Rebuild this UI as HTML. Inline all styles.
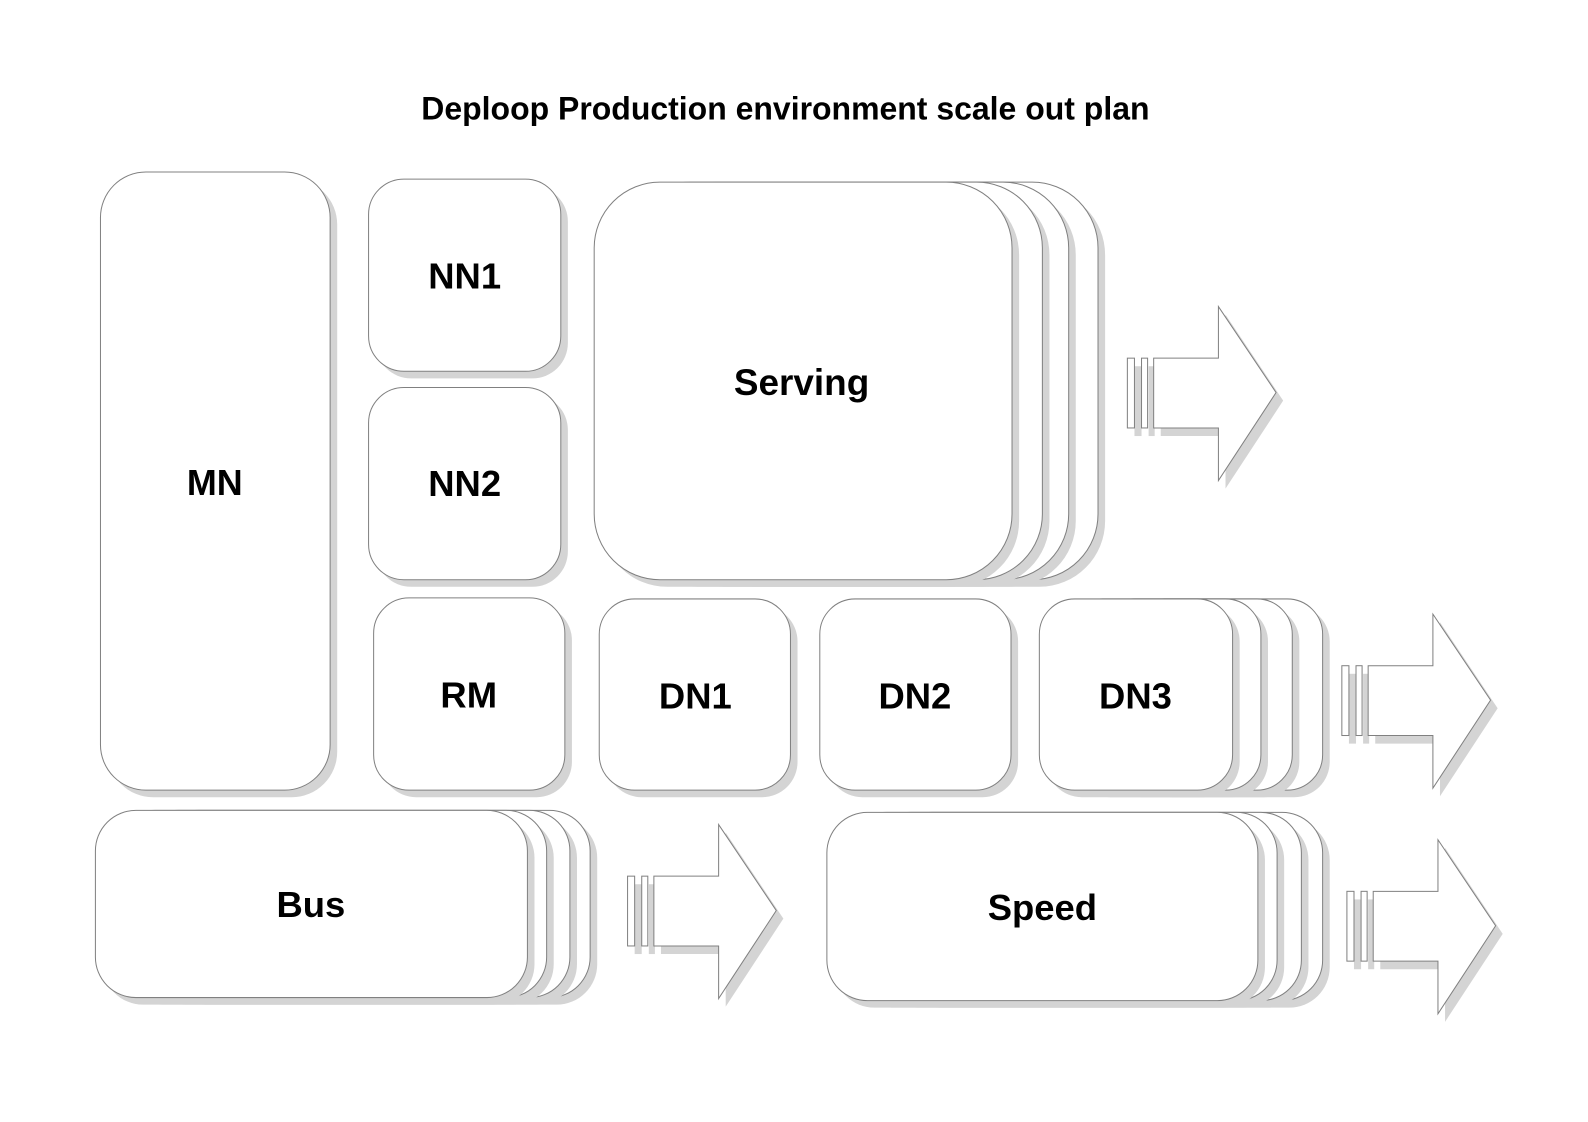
<!DOCTYPE html>
<html><head><meta charset="utf-8"><style>
html,body{margin:0;padding:0;background:#fff;width:1588px;height:1122px;overflow:hidden}
svg{display:block}
text{font-family:"Liberation Sans",sans-serif;font-weight:bold;fill:#000;text-anchor:middle;dominant-baseline:central}
.s{fill:#d4d4d4}
.b{fill:#fff;stroke:#808080;stroke-width:1}
</style></head><body>
<svg width="1588" height="1122" viewBox="0 0 1569 1109" xmlns="http://www.w3.org/2000/svg">
<text x="776" y="107" style="font-size:31.6px">Deploop Production environment scale out plan</text>

<!-- MN -->
<rect class="s" x="106" y="177" width="227" height="611" rx="45"/>
<rect class="b" x="99" y="170" width="227" height="611" rx="45"/>
<text x="212" y="477" style="font-size:35.5px">MN</text>

<!-- NN1 NN2 RM -->
<rect class="s" x="371" y="184" width="190" height="190" rx="35"/>
<rect class="b" x="364" y="177" width="190" height="190" rx="35"/>
<text x="459" y="273" style="font-size:36px">NN1</text>
<rect class="s" x="371" y="390" width="190" height="190" rx="35"/>
<rect class="b" x="364" y="383" width="190" height="190" rx="35"/>
<text x="459" y="478" style="font-size:36px">NN2</text>
<rect class="s" x="376" y="598" width="189" height="190" rx="35"/>
<rect class="b" x="369" y="591" width="189" height="190" rx="35"/>
<text x="463" y="687" style="font-size:36px">RM</text>

<!-- DN1 DN2 -->
<rect class="s" x="599" y="599" width="189" height="189" rx="35"/>
<rect class="b" x="592" y="592" width="189" height="189" rx="35"/>
<text x="687" y="688" style="font-size:36px">DN1</text>
<rect class="s" x="817" y="599" width="189" height="189" rx="35"/>
<rect class="b" x="810" y="592" width="189" height="189" rx="35"/>
<text x="904" y="688" style="font-size:36px">DN2</text>

<!-- DN3 stack -->
<rect class="s" x="1123" y="599" width="191" height="189" rx="35"/>
<rect class="b" x="1116" y="592" width="191" height="189" rx="35"/>
<rect class="s" x="1093" y="599" width="191" height="189" rx="35"/>
<rect class="b" x="1086" y="592" width="191" height="189" rx="35"/>
<rect class="s" x="1062" y="599" width="191" height="189" rx="35"/>
<rect class="b" x="1055" y="592" width="191" height="189" rx="35"/>
<rect class="s" x="1034" y="599" width="191" height="189" rx="35"/>
<rect class="b" x="1027" y="592" width="191" height="189" rx="35"/>
<text x="1122" y="688" style="font-size:36px">DN3</text>

<!-- Serving stack -->
<rect class="s" x="679" y="187" width="413" height="393" rx="65"/>
<rect class="b" x="672" y="180" width="413" height="393" rx="65"/>
<rect class="s" x="650" y="187" width="413" height="393" rx="65"/>
<rect class="b" x="643" y="180" width="413" height="393" rx="65"/>
<rect class="s" x="624" y="187" width="413" height="393" rx="65"/>
<rect class="b" x="617" y="180" width="413" height="393" rx="65"/>
<rect class="s" x="594" y="187" width="413" height="393" rx="65"/>
<rect class="b" x="587" y="180" width="413" height="393" rx="65"/>
<text x="792" y="378" style="font-size:36.5px">Serving</text>

<!-- Bus stack -->
<rect class="s" x="163" y="808" width="427" height="185" rx="40"/>
<rect class="b" x="156" y="801" width="427" height="185" rx="40"/>
<rect class="s" x="143" y="808" width="427" height="185" rx="40"/>
<rect class="b" x="136" y="801" width="427" height="185" rx="40"/>
<rect class="s" x="120" y="808" width="427" height="185" rx="40"/>
<rect class="b" x="113" y="801" width="427" height="185" rx="40"/>
<rect class="s" x="101" y="808" width="427" height="185" rx="40"/>
<rect class="b" x="94" y="801" width="427" height="185" rx="40"/>
<text x="307" y="894" style="font-size:36px">Bus</text>

<!-- Speed stack -->
<rect class="s" x="888" y="810" width="426" height="186" rx="40"/>
<rect class="b" x="881" y="803" width="426" height="186" rx="40"/>
<rect class="s" x="867" y="810" width="426" height="186" rx="40"/>
<rect class="b" x="860" y="803" width="426" height="186" rx="40"/>
<rect class="s" x="843" y="810" width="426" height="186" rx="40"/>
<rect class="b" x="836" y="803" width="426" height="186" rx="40"/>
<rect class="s" x="824" y="810" width="426" height="186" rx="40"/>
<rect class="b" x="817" y="803" width="426" height="186" rx="40"/>
<text x="1030" y="897" style="font-size:36px">Speed</text>

<!-- Arrows -->
<g>
<g class="s" transform="translate(7,8)">
<rect x="1114" y="354" width="7" height="69"/><rect x="1128" y="354" width="6" height="69"/>
<polygon points="1140,354 1204,354 1204,303 1261,388 1204,475 1204,423 1140,423"/>
</g>
<rect class="b" x="1114" y="354" width="7" height="69"/><rect class="b" x="1128" y="354" width="6" height="69"/>
<polygon class="b" points="1140,354 1204,354 1204,303 1261,388 1204,475 1204,423 1140,423"/>
</g>
<g transform="translate(212,304)">
<g class="s" transform="translate(7,8)">
<rect x="1114" y="354" width="7" height="69"/><rect x="1128" y="354" width="6" height="69"/>
<polygon points="1140,354 1204,354 1204,303 1261,388 1204,475 1204,423 1140,423"/>
</g>
<rect class="b" x="1114" y="354" width="7" height="69"/><rect class="b" x="1128" y="354" width="6" height="69"/>
<polygon class="b" points="1140,354 1204,354 1204,303 1261,388 1204,475 1204,423 1140,423"/>
</g>
<g transform="translate(-494,512)">
<g class="s" transform="translate(7,8)">
<rect x="1114" y="354" width="7" height="69"/><rect x="1128" y="354" width="6" height="69"/>
<polygon points="1140,354 1204,354 1204,303 1261,388 1204,475 1204,423 1140,423"/>
</g>
<rect class="b" x="1114" y="354" width="7" height="69"/><rect class="b" x="1128" y="354" width="6" height="69"/>
<polygon class="b" points="1140,354 1204,354 1204,303 1261,388 1204,475 1204,423 1140,423"/>
</g>
<g transform="translate(217,527)">
<g class="s" transform="translate(7,8)">
<rect x="1114" y="354" width="7" height="69"/><rect x="1128" y="354" width="6" height="69"/>
<polygon points="1140,354 1204,354 1204,303 1261,388 1204,475 1204,423 1140,423"/>
</g>
<rect class="b" x="1114" y="354" width="7" height="69"/><rect class="b" x="1128" y="354" width="6" height="69"/>
<polygon class="b" points="1140,354 1204,354 1204,303 1261,388 1204,475 1204,423 1140,423"/>
</g>
</svg>
</body></html>
